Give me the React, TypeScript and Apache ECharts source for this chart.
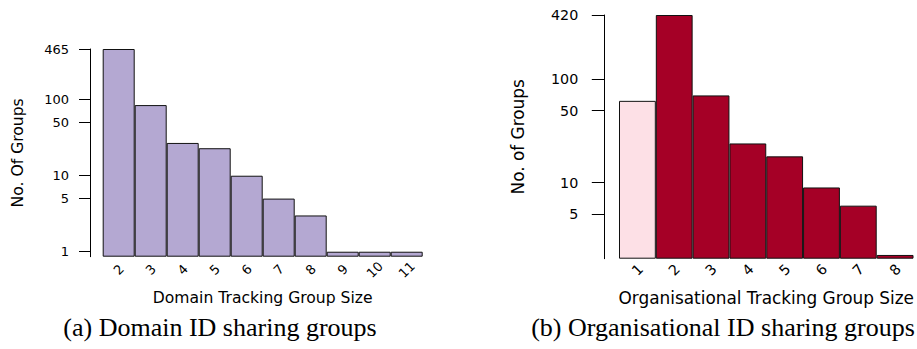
import React, { useEffect, useRef } from 'react';
import * as echarts from 'echarts';

// Panel (a): domain tracking groups
const domainSizes = ['2', '3', '4', '5', '6', '7', '8', '9', '10', '11'];
const domainGroups = [465, 85, 27, 23, 10, 5, 3, 1, 1, 1];
const domainTicks = [1, 5, 10, 50, 100, 465];

// Panel (b): organisational tracking groups
const orgSizes = ['1', '2', '3', '4', '5', '6', '7', '8'];
const orgGroups = [62, 420, 70, 24, 18, 9, 6, 2];
const orgTicks = [5, 10, 50, 100, 420];

const SANS = 'DejaVu Sans';
const SERIF = 'Liberation Serif';

export default function App() {
  const ref = useRef<HTMLDivElement>(null);
  useEffect(() => {
    const chart = echarts.init(ref.current!, null, { renderer: 'svg' });
    chart.setOption({
      animation: false,
      backgroundColor: '#ffffff',
      grid: [
        { left: 102.7, top: 49, width: 320, height: 207.7 },
        { left: 619, top: 15, width: 306.4, height: 243.7 },
      ],
      xAxis: [
        {
          type: 'category',
          gridIndex: 0,
          data: domainSizes,
          axisLine: { show: false },
          axisTick: { show: false },
          axisLabel: {
            rotate: 45, align: 'center', verticalAlign: 'middle', margin: 13,
            fontSize: 13, fontFamily: SANS, color: '#000',
          },
          name: 'Domain Tracking Group Size',
          nameLocation: 'middle',
          nameGap: 33,
          nameTextStyle: { fontSize: 15.6, fontFamily: SANS, color: '#000' },
        },
        {
          type: 'category',
          gridIndex: 1,
          data: orgSizes,
          axisLine: { show: false },
          axisTick: { show: false },
          axisLabel: {
            rotate: 45, align: 'center', verticalAlign: 'middle', margin: 11,
            fontSize: 14.3, fontFamily: SANS, color: '#000',
          },
          name: 'Organisational Tracking Group Size',
          nameLocation: 'middle',
          nameGap: 30.5,
          nameTextStyle: { fontSize: 16.9, fontFamily: SANS, color: '#000' },
        },
      ],
      yAxis: [
        {
          type: 'log',
          gridIndex: 0,
          min: 0.86,
          max: 465,
          startValue: 0.86,
          offset: 12.7,
          axisLine: { show: true, lineStyle: { color: '#000', width: 1 } },
          axisTick: { show: true, length: 11, customValues: domainTicks, lineStyle: { color: '#000', width: 1 } },
          axisLabel: { customValues: domainTicks, margin: 21, fontSize: 13, fontFamily: SANS, color: '#000' },
          minorTick: { show: false },
          splitLine: { show: false },
          name: 'No. Of Groups',
          nameLocation: 'middle',
          nameGap: 64,
          nameTextStyle: { fontSize: 15.6, fontFamily: SANS, color: '#000' },
        },
        {
          type: 'log',
          gridIndex: 1,
          min: 1.84,
          max: 420,
          startValue: 1.84,
          offset: 14.7,
          axisLine: { show: true, lineStyle: { color: '#000', width: 1 } },
          axisTick: { show: true, length: 12.5, customValues: orgTicks, lineStyle: { color: '#000', width: 1 } },
          axisLabel: { customValues: orgTicks, margin: 26, fontSize: 14.3, fontFamily: SANS, color: '#000' },
          minorTick: { show: false },
          splitLine: { show: false },
          name: 'No. of Groups',
          nameLocation: 'middle',
          nameGap: 78,
          nameTextStyle: { fontSize: 16.9, fontFamily: SANS, color: '#000' },
        },
      ],
      series: [
        {
          type: 'bar',
          xAxisIndex: 0,
          yAxisIndex: 0,
          data: domainGroups,
          barCategoryGap: '0%',
          itemStyle: { color: '#b4a8d2', borderColor: '#111', borderWidth: 1 },
        },
        {
          type: 'bar',
          xAxisIndex: 1,
          yAxisIndex: 1,
          data: orgGroups,
          barCategoryGap: '0%',
          itemStyle: {
            color: (p: any) => (p.dataIndex === 0 ? '#fde0e6' : '#a50026'),
            borderColor: '#111',
            borderWidth: 1,
          },
        },
      ],
      graphic: [
        {
          type: 'text',
          x: 220,
          y: 327,
          style: {
            text: '(a) Domain ID sharing groups',
            fontSize: 26,
            fontFamily: SERIF,
            fill: '#000',
            align: 'center',
            verticalAlign: 'middle',
          },
        },
        {
          type: 'text',
          x: 723,
          y: 327,
          style: {
            text: '(b) Organisational ID sharing groups',
            fontSize: 26,
            fontFamily: SERIF,
            fill: '#000',
            align: 'center',
            verticalAlign: 'middle',
          },
        },
      ],
    });
    return () => chart.dispose();
  }, []);
  return (
    <div
      ref={ref}
      style={{ position: 'absolute', left: 0, top: 0, width: 917, height: 349 }}
    />
  );
}
